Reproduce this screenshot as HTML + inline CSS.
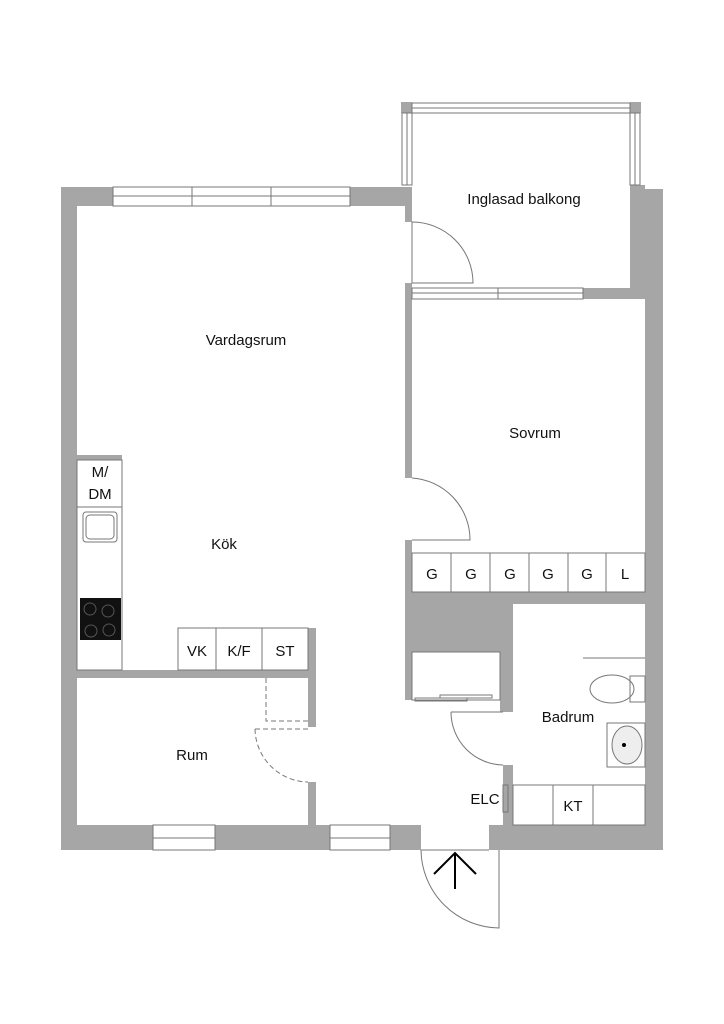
<!DOCTYPE html>
<html><head><meta charset="utf-8"><style>body{margin:0;background:#fff}svg{display:block}text{font-family:"Liberation Sans",sans-serif;fill:#111}</style></head><body>
<svg width="724" height="1024" viewBox="0 0 724 1024" xmlns="http://www.w3.org/2000/svg">
<g fill="#a6a6a6">
<!-- outer walls -->
<rect x="61" y="187" width="16" height="663"/>
<rect x="61" y="187" width="52" height="19"/>
<rect x="350" y="187" width="62" height="19"/>
<rect x="405" y="187" width="7" height="35"/>
<rect x="645" y="189" width="18" height="661"/>
<rect x="630" y="185" width="15" height="113"/>
<rect x="583" y="288" width="62" height="11"/>
<rect x="405" y="283" width="7" height="195"/>
<rect x="405" y="540" width="7" height="160"/>
<rect x="405" y="592" width="240" height="12"/>
<rect x="405" y="592" width="108" height="60"/>
<rect x="500" y="652" width="13" height="60"/>
<rect x="503" y="765" width="10" height="60"/>
<!-- bottom walls -->
<rect x="61" y="825" width="92" height="25"/>
<rect x="215" y="825" width="115" height="25"/>
<rect x="390" y="825" width="31" height="25"/>
<rect x="489" y="825" width="174" height="25"/>
<!-- kitchen / rum -->
<rect x="77" y="455" width="45" height="5"/>
<rect x="61" y="670" width="255" height="8"/>
<rect x="308" y="628" width="8" height="99"/>
<rect x="308" y="782" width="8" height="43"/>
<!-- balcony posts -->
<rect x="401" y="102" width="11" height="11"/>
<rect x="630" y="102" width="11" height="11"/>
</g>
<g fill="none" stroke="#777" stroke-width="1">
<!-- windows -->
<rect x="113" y="187" width="237" height="19"/><line x1="113" y1="196" x2="350" y2="196"/><line x1="192" y1="187" x2="192" y2="206"/><line x1="271" y1="187" x2="271" y2="206"/>
<rect x="412" y="103" width="218" height="10"/><line x1="412" y1="108" x2="630" y2="108"/>
<rect x="402" y="113" width="10" height="72"/><line x1="407" y1="113" x2="407" y2="185"/>
<rect x="630" y="113" width="10" height="72"/><line x1="635" y1="113" x2="635" y2="185"/>
<rect x="412" y="288" width="171" height="11"/><line x1="412" y1="293" x2="583" y2="293"/><line x1="498" y1="288" x2="498" y2="299"/>
<rect x="153" y="825" width="62" height="25"/><line x1="153" y1="838" x2="215" y2="838"/>
<rect x="330" y="825" width="60" height="25"/><line x1="330" y1="838" x2="390" y2="838"/>
<!-- doors -->
<path d="M412 222 A61 61 0 0 1 473 283 L412 283 Z"/>
<path d="M412 478 A62 62 0 0 1 470 540 L412 540"/>
<path d="M451 712 A53 53 0 0 0 503 765"/>
<line x1="451" y1="712" x2="503" y2="712"/>
<path d="M421 850 A79 79 0 0 0 499 928 L499 850"/>
<line x1="421" y1="850" x2="489" y2="850"/>
<!-- wardrobes -->
<rect x="412" y="553" width="233" height="39"/>
<line x1="451" y1="553" x2="451" y2="592"/><line x1="490" y1="553" x2="490" y2="592"/><line x1="529" y1="553" x2="529" y2="592"/><line x1="568" y1="553" x2="568" y2="592"/><line x1="606" y1="553" x2="606" y2="592"/>
<!-- closet -->
<rect x="412" y="652" width="88" height="48"/>
<rect x="440" y="695" width="52" height="3"/><rect x="415" y="698" width="52" height="3"/>
<!-- kitchen counters -->
<rect x="77" y="460" width="45" height="210"/>
<line x1="77" y1="507" x2="122" y2="507"/>
<rect x="178" y="628" width="130" height="42"/>
<line x1="216" y1="628" x2="216" y2="670"/><line x1="262" y1="628" x2="262" y2="670"/>
<rect x="83" y="512" width="34" height="30" rx="3"/><rect x="86" y="515" width="28" height="24" rx="4"/>
<!-- bath -->
<rect x="513" y="785" width="132" height="40"/>
<line x1="553" y1="785" x2="553" y2="825"/><line x1="593" y1="785" x2="593" y2="825"/>
<line x1="583" y1="658" x2="645" y2="658"/>
<ellipse cx="612" cy="689" rx="22" ry="14"/>
<path d="M630 676 L645 676 L645 702 L630 702 Z"/>
<rect x="607" y="723" width="38" height="44"/>
<ellipse cx="627" cy="745" rx="15" ry="19" fill="#eee"/>
<rect x="503" y="785" width="5" height="27"/>
</g>
<g stroke="#777" stroke-dasharray="5,3" fill="none">
<path d="M266 678 L266 721 L308 721"/>
<path d="M255 729 L308 729"/>
<path d="M255 729 A54 54 0 0 0 308 782"/>
</g>
<rect x="80" y="598" width="41" height="42" fill="#111"/>
<g fill="none" stroke="#555"><circle cx="90" cy="609" r="6"/><circle cx="108" cy="611" r="6"/><circle cx="91" cy="631" r="6"/><circle cx="109" cy="630" r="6"/></g>
<circle cx="624" cy="745" r="2" fill="#000"/>
<g stroke="#000" stroke-width="2" fill="none"><line x1="455" y1="889" x2="455" y2="853"/><path d="M434 874 L455 853 L476 874"/></g>
<g font-size="15" text-anchor="middle">
<text x="524" y="204">Inglasad balkong</text>
<text x="246" y="345">Vardagsrum</text>
<text x="535" y="438">Sovrum</text>
<text x="224" y="549">Kök</text>
<text x="192" y="760">Rum</text>
<text x="568" y="722">Badrum</text>
<text x="485" y="804">ELC</text>
<text x="573" y="811">KT</text>
<text x="100" y="477">M/</text>
<text x="100" y="499">DM</text>
<text x="197" y="656">VK</text>
<text x="239" y="656">K/F</text>
<text x="285" y="656">ST</text>
<text x="432" y="579">G</text><text x="471" y="579">G</text><text x="510" y="579">G</text><text x="548" y="579">G</text><text x="587" y="579">G</text><text x="625" y="579">L</text>
</g>
</svg>
</body></html>
